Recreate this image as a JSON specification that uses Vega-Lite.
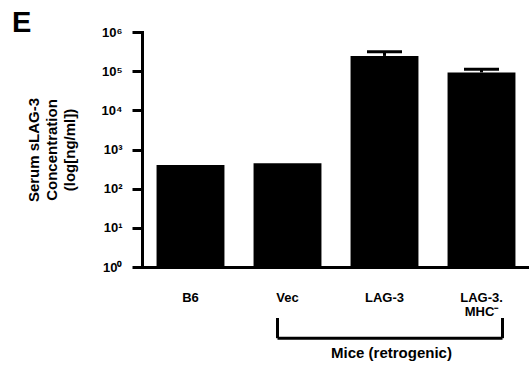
{
  "$schema": "https://vega.github.io/schema/vega-lite/v6.json",
  "background": "white",
  "padding": {"left": 12, "top": 9, "right": 0, "bottom": 5},
  "config": {
    "font": "Liberation Sans",
    "view": {"stroke": null},
    "axis": {"labelColor": "black", "titleColor": "black", "labelFontWeight": "bold", "titleFontWeight": "bold", "domainColor": "black", "tickColor": "black", "grid": false}
  },
  "title": {"text": "E", "fontSize": 29, "fontWeight": "bold", "anchor": "start", "frame": "bounds", "dx": -14, "offset": -12, "color": "black"},
  "spacing": -8,
  "resolve": {"scale": {"x": "shared"}},
  "vconcat": [
    {
      "width": 388,
      "height": 235,
      "data": {"values": [
        {"group": "B6", "value": 400, "upper": null},
        {"group": "Vec", "value": 445, "upper": null},
        {"group": "LAG-3", "value": 245000, "upper": 315000},
        {"group": "LAG-3. MHC⁻", "value": 93000, "upper": 112000}
      ]},
      "encoding": {
        "x": {"field": "group", "type": "nominal", "sort": null,
          "scale": {"paddingInner": 0.3, "paddingOuter": 0.15},
          "axis": {"title": null, "labelAngle": 0, "ticks": false, "domainWidth": 3, "labelPadding": 24, "labelFontSize": 13, "labelLineHeight": 14,
            "labelExpr": "datum.value == 'LAG-3. MHC⁻' ? ['LAG-3.', 'MHC⁻'] : datum.label"}}
      },
      "layer": [
        {
          "mark": {"type": "bar", "color": "black"},
          "encoding": {
            "y": {"field": "value", "type": "quantitative",
              "scale": {"type": "log", "domain": [1, 1000000], "nice": false},
              "axis": {"values": [1, 10, 100, 1000, 10000, 100000, 1000000],
                "labelExpr": "'10' + ['⁰','¹','²','³','⁴','⁵','⁶'][round(log(datum.value)/LN10)]",
                "labelFontSize": 13, "tickSize": 10, "tickWidth": 3, "domainWidth": 3, "domainCap": "square", "labelPadding": 10,
                "title": ["Serum sLAG-3", "Concentration", "(log[ng/ml])"], "titleFontSize": 15, "titleLineHeight": 18, "titlePadding": 24}},
            "y2": {"datum": 1}
          }
        },
        {
          "transform": [{"filter": "datum.upper != null"}],
          "mark": {"type": "rule", "color": "black", "strokeWidth": 3},
          "encoding": {"y": {"field": "value", "type": "quantitative"}, "y2": {"field": "upper"}}
        },
        {
          "transform": [{"filter": "datum.upper != null"}],
          "mark": {"type": "tick", "color": "black", "opacity": 1, "thickness": 3, "size": 35},
          "encoding": {"y": {"field": "upper", "type": "quantitative"}}
        }
      ]
    },
    {
      "width": 388,
      "height": 42,
      "data": {"values": [
        {"from": "Vec", "to": "LAG-3. MHC⁻", "top": 1, "base": 0.52, "label": "Mice (retrogenic)", "labelPos": 0.17, "mid": "LAG-3"}
      ]},
      "encoding": {},
      "layer": [
        {
          "mark": {"type": "rule", "color": "black", "strokeWidth": 3, "xOffset": -10, "x2Offset": 21},
          "encoding": {
            "x": {"field": "from", "type": "nominal", "sort": null, "axis": null},
            "x2": {"field": "to"},
            "y": {"field": "base", "type": "quantitative", "scale": {"domain": [0, 1], "nice": false}, "axis": null}
          }
        },
        {
          "mark": {"type": "rule", "color": "black", "strokeWidth": 3, "xOffset": -10},
          "encoding": {
            "x": {"field": "from", "type": "nominal", "sort": null, "axis": null},
            "y": {"field": "top", "type": "quantitative", "axis": null},
            "y2": {"field": "base"}
          }
        },
        {
          "mark": {"type": "rule", "color": "black", "strokeWidth": 3, "xOffset": 21},
          "encoding": {
            "x": {"field": "to", "type": "nominal", "sort": null, "axis": null},
            "y": {"field": "top", "type": "quantitative", "axis": null},
            "y2": {"field": "base"}
          }
        },
        {
          "mark": {"type": "text", "color": "black", "fontSize": 15, "fontWeight": "bold", "dx": 7},
          "encoding": {
            "x": {"field": "mid", "type": "nominal", "sort": null, "axis": null},
            "y": {"field": "labelPos", "type": "quantitative", "axis": null},
            "text": {"field": "label"}
          }
        }
      ]
    }
  ]
}
